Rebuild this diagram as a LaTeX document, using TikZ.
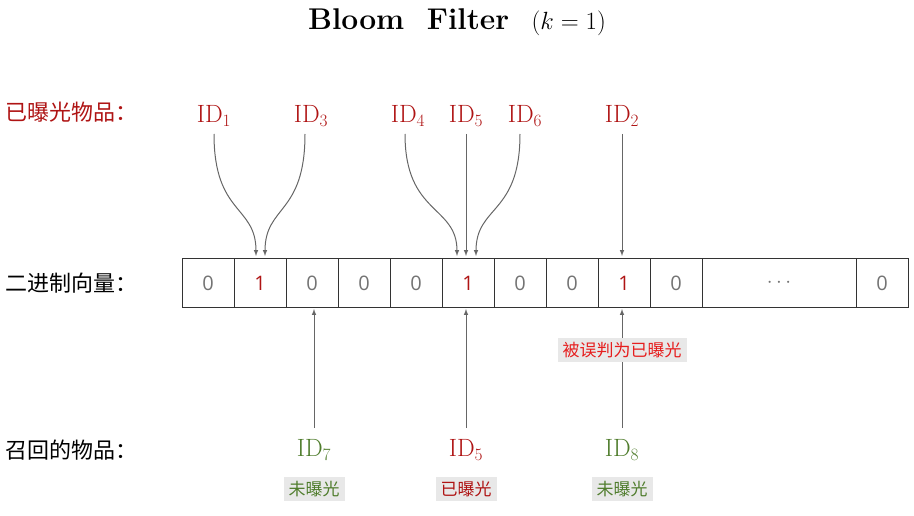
\documentclass[tikz,border=0pt]{standalone}
\usepackage{fontspec}
\newfontfamily\cjk{Noto Sans CJK SC}
\newfontfamily\numf{Open Sans}
\begin{document}
\begin{tikzpicture}[x=1pt,y=-1pt,
  cell/.style={draw=black!80,line width=0.6pt,minimum height=49pt,inner sep=0pt,font=\numf\fontsize{20}{20}\selectfont,text=black!55},
  one/.style={text=myred},
  idr/.style={text=myred,font=\fontsize{25}{25}\selectfont},
  idg/.style={text=mygreen,font=\fontsize{25}{25}\selectfont},
  lbl/.style={font=\cjk\fontsize{22}{22}\selectfont,anchor=west},
  tag/.style={fill=black!9,inner xsep=5pt,inner ysep=4pt,font=\cjk\fontsize{17}{17}\selectfont},
  arr/.style={draw=black!60,line width=1pt,-latex}]
\definecolor{myred}{RGB}{175,20,20}
\definecolor{mygreen}{RGB}{80,125,45}
\definecolor{brightred}{RGB}{230,30,30}
\useasboundingbox (0,0) rectangle (914,516);
\node[font=\bfseries\fontsize{30}{30}\selectfont] (title) at (457,22) {Bloom\ \ Filter\ \ $(k=1)$};
\node[lbl,text=myred] (l1) at (2,112) {已曝光物品：};
\node[lbl] (l2) at (2,283) {二进制向量：};
\node[lbl] (l3) at (2,450) {召回的物品：};
% cells
\foreach \i/\v/\c in {0/0/,1/1/one,2/0/,3/0/,4/0/,5/1/one,6/0/,7/0/,8/1/one,9/0/}{
  \node[cell,minimum width=52pt,\c] (c\i) at (208+52*\i,283) {\v};
}
\node[cell,minimum width=154pt] (cd) at (779,283) {$\cdots$};
\node[cell,minimum width=52pt] (cl) at (882,283) {0};
% top ids
\node[idr] (i1) at (214,116) {ID$_1$};
\node[idr] (i3) at (311,116) {ID$_3$};
\node[idr] (i4) at (408,116) {ID$_4$};
\node[idr] (i5) at (466,116) {ID$_5$};
\node[idr] (i6) at (525,116) {ID$_6$};
\node[idr] (i2) at (622,116) {ID$_2$};
\coordinate (t1a) at (256,256);
\coordinate (t1b) at (265,256);
\coordinate (t5a) at (457,256);
\coordinate (t5b) at (466,256);
\coordinate (t5c) at (476,256);
\coordinate (t8) at (622,256);
\coordinate (s7) at (314,428);
\coordinate (s5) at (466,428);
\coordinate (s8) at (622,428);
\coordinate (e7) at (314,309);
\coordinate (e5) at (466,309);
\coordinate (e8) at (622,309);
\draw[arr] (214,134) .. controls (214,215) and (256,205) .. (t1a);
\draw[arr] (305,134) .. controls (305,215) and (265,205) .. (t1b);
\draw[arr] (405,134) .. controls (405,215) and (457,205) .. (t5a);
\draw[arr] (466,134) -- (t5b);
\draw[arr] (520,134) .. controls (520,215) and (476,205) .. (t5c);
\draw[arr] (622,134) -- (t8);
% bottom
\node[idg] (b7) at (314,450) {ID$_7$};
\node[idr] (b5) at (466,450) {ID$_5$};
\node[idg] (b8) at (622,450) {ID$_8$};
\draw[arr] (s7) -- (e7);
\draw[arr] (s5) -- (e5);
\draw[arr] (s8) -- (e8);
\node[tag,text=brightred] (fp) at (622,350) {被误判为已曝光};
\node[tag,text=mygreen] (g7) at (314,489) {未曝光};
\node[tag,text=myred] (g5) at (466,489) {已曝光};
\node[tag,text=mygreen] (g8) at (622,489) {未曝光};
\end{tikzpicture}
\end{document}
